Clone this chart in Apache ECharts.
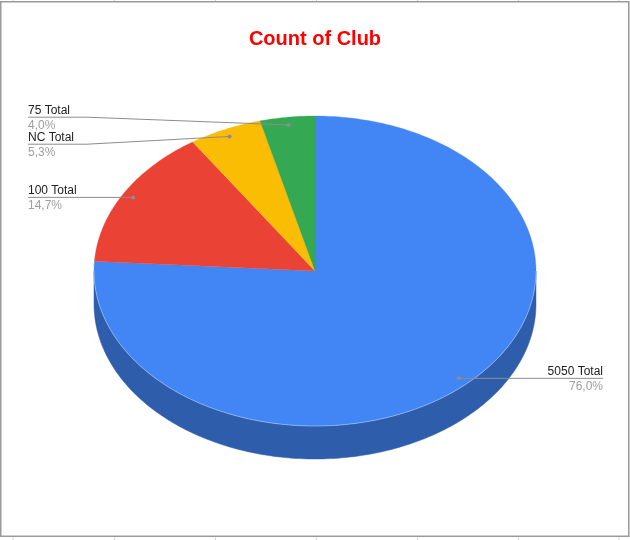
<!DOCTYPE html>
<html><head><meta charset="utf-8">
<script src="https://cdn.jsdelivr.net/npm/echarts@6/dist/echarts.min.js"></script>
<style>html,body{margin:0;padding:0;background:#fff}#c{width:630px;height:540px}</style>
</head><body><div id="c"></div>
<script>
// ---- data ----
const categories = ['5050 Total', '100 Total', 'NC Total', '75 Total'];
const counts = [57, 11, 4, 3];
const topColors = ['#4285f4', '#ea4335', '#fbbc04', '#34a853'];
const sideColors = ['#2e5eab', '#a52f25', '#b08403', '#24763a'];
const chartTitle = 'Count of Club';
const sheetColumnLines = [13, 114.5, 215.5, 316.5, 417.5, 518.5, 619];

// ---- layout constants ----
const CX = 315, CY = 271, RX = 221, RY = 155, DEPTH = 33, LABEL_R = 0.95, GAP = 27;
const LEFT_X = 28, RIGHT_X = 603, ELBOW = 59;
const FONT = '"Liberation Sans", Arial, sans-serif';

const total = counts.reduce((a, b) => a + b, 0);
const cum = [0];
counts.forEach(v => cum.push(cum[cum.length - 1] + v));

function pt(deg, k, dy) {
  const r = deg * Math.PI / 180;
  return [CX + RX * k * Math.cos(r), CY - RY * k * Math.sin(r) + (dy || 0)];
}
function arc(a0, a1, dy) {
  const pts = [];
  const n = Math.max(2, Math.ceil(Math.abs(a0 - a1)));
  for (let j = 0; j <= n; j++) pts.push(pt(a0 + (a1 - a0) * j / n, 1, dy));
  return pts;
}

// label layout
const labels = counts.map((v, i) => {
  const mid = 90 - 360 * (cum[i] + v / 2) / total;
  const d = pt(mid, LABEL_R);
  return { i, dot: d, left: Math.cos(mid * Math.PI / 180) < 0, y: d[1] };
});
function spread(group) {
  group.sort((a, b) => a.y - b.y);
  const clusters = group.map(g => [g]);
  let changed = true;
  while (changed) {
    changed = false;
    for (let c = 0; c < clusters.length - 1; c++) {
      const A = clusters[c], B = clusters[c + 1];
      if (B[0].y - A[A.length - 1].y < GAP) {
        const m = A.concat(B);
        const mean = m.reduce((s, g) => s + g.dot[1], 0) / m.length;
        m.forEach((g, k) => g.y = mean + (k - (m.length - 1) / 2) * GAP);
        clusters.splice(c, 2, m);
        changed = true;
        break;
      }
    }
  }
}
spread(labels.filter(l => l.left));
spread(labels.filter(l => !l.left));

function pctText(v) { return (v / total * 100).toFixed(1).replace('.', ',') + '%'; }

function renderItem(params, api) {
  const i = params.dataIndex;
  const v = api.value(0);
  const a0 = 90 - 360 * cum[i] / total;
  const a1 = 90 - 360 * (cum[i] + v) / total;
  const children = [];
  // side wall (front half: angles -180..0)
  const hi = Math.min(a0, 0), lo = Math.max(a1, -180);
  if (hi > lo) {
    const topEdge = arc(hi, lo, 0);
    const botEdge = arc(lo, hi, DEPTH);
    children.push({ type: 'polygon', z2: 1, shape: { points: topEdge.concat(botEdge) },
      style: { fill: sideColors[i], stroke: sideColors[i], lineWidth: 0.5 } });
    children.push({ type: 'polyline', z2: 12, shape: { points: topEdge },
      style: { fill: null, stroke: 'rgba(255,255,255,0.35)', lineWidth: 1 } });
  }
  // top sector
  children.push({ type: 'polygon', z2: 10, shape: { points: [[CX, CY]].concat(arc(a0, a1, 0)) },
    style: { fill: topColors[i], stroke: topColors[i], lineWidth: 0.3 } });
  // label
  const L = labels.find(l => l.i === i);
  const tx = L.left ? LEFT_X : RIGHT_X;
  const ex = L.left ? LEFT_X + ELBOW : RIGHT_X - ELBOW;
  const line = Math.abs(L.y - L.dot[1]) < 0.5
    ? [[tx, L.y], [L.dot[0], L.dot[1]]]
    : [[tx, L.y], [ex, L.y], [L.dot[0], L.dot[1]]];
  children.push({ type: 'polyline', z2: 20, shape: { points: line },
    style: { fill: null, stroke: '#8d8d8d', lineWidth: 1 } });
  children.push({ type: 'circle', z2: 21, shape: { cx: L.dot[0], cy: L.dot[1], r: 2 },
    style: { fill: '#8d8d8d' } });
  children.push({ type: 'text', z2: 22, x: tx, y: L.y - 6.5,
    style: { text: categories[i], fill: '#222', font: '12px ' + FONT,
      align: L.left ? 'left' : 'right', verticalAlign: 'middle' } });
  children.push({ type: 'text', z2: 22, x: tx, y: L.y + 8,
    style: { text: pctText(v), fill: '#9e9e9e', font: '12px ' + FONT,
      align: L.left ? 'left' : 'right', verticalAlign: 'middle' } });
  return { type: 'group', children };
}

const graphics = [
  { type: 'rect', shape: { x: 0.75, y: 1.75, width: 628, height: 534.5 },
    style: { fill: null, stroke: '#9a9a9a', lineWidth: 1.5 }, z: -1 }
];
sheetColumnLines.forEach(x => {
  graphics.push({ type: 'line', shape: { x1: x, y1: 0, x2: x, y2: 1 }, style: { stroke: '#d0d0d0', lineWidth: 1 } });
  graphics.push({ type: 'line', shape: { x1: x, y1: 537.5, x2: x, y2: 540 }, style: { stroke: '#d0d0d0', lineWidth: 1 } });
});

const chart = echarts.init(document.getElementById('c'), null, { renderer: 'canvas' });
chart.setOption({
  animation: false,
  backgroundColor: '#fff',
  title: { text: chartTitle, left: 'center', top: 24,
    textStyle: { color: '#ff0000', fontSize: 20, fontWeight: 'bold', fontFamily: FONT } },
  graphic: graphics,
  series: [{
    type: 'custom', coordinateSystem: 'none', silent: true,
    renderItem,
    data: counts.map((v, i) => ({ name: categories[i], value: [v] }))
  }]
});
</script></body></html>
